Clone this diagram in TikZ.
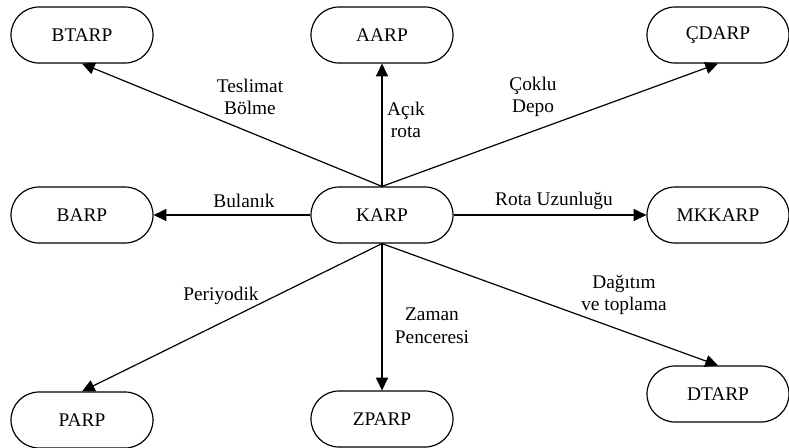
\documentclass[tikz,border=0pt]{standalone}
\usepackage{fontspec}
\setmainfont{Liberation Serif}
\usetikzlibrary{arrows.meta}
\begin{document}
\begin{tikzpicture}[x=0.75pt,y=-0.75pt,>={Triangle[length=9.5pt,width=9pt]},line join=round,
	font=\fontsize{14.5}{17}\selectfont,
	kutu/.style={draw,line width=0.9pt,rounded corners=21pt,minimum width=106.5pt,minimum height=42pt,inner sep=0pt},
	ok/.style={->,line width=0.9pt},
	etiket/.style={align=center,inner sep=0pt}]
		\useasboundingbox (0,0) rectangle (789,447);
		\def\xa{82} \def\xb{382} \def\xc{718} % sütunlar
		\def\ya{35} \def\yb{215} \def\yc{420} % satırlar
		\node[kutu] (KARP) at (\xb,\yb) {KARP};
		\node[kutu] (BTARP) at (\xa,\ya) {BTARP};
		\node[kutu] (AARP) at (\xb,\ya) {AARP};
		\node[kutu] (CDARP) at (\xc,\ya) {ÇDARP};
		\node[kutu] (BARP) at (\xa,\yb) {BARP};
		\node[kutu] (MKKARP) at (\xc,\yb) {MKKARP};
		\node[kutu] (PARP) at (\xa,\yc) {PARP};
		\node[kutu] (ZPARP) at (\xb,419) {ZPARP};
		\node[kutu] (DTARP) at (\xc,394) {DTARP};
		\foreach \n in {BTARP,AARP,CDARP}
		\draw[ok] (KARP.north)--(\n.south);
		\foreach \n in {PARP,ZPARP,DTARP}
		\draw[ok] (KARP.south)--(\n.north);
		\draw[ok] (KARP.west)--(BARP.east);
		\draw[ok] (KARP.east)--(MKKARP.west);
		\node[etiket] (tb) at (250,97) {Teslimat\\Bölme};
		\node[etiket] (ar) at (406,120) {Açık\\rota};
		\node[etiket] (cd) at (533,97) {Çoklu\\Depo};
		\node[etiket] (bu) at (244,201) {Bulanık};
		\node[etiket] (ru) at (554,201) {Rota Uzunluğu};
		\node[etiket] (pe) at (221,296) {Periyodik};
		\node[etiket] (zp) at (432,326) {Zaman\\Penceresi};
		\node[etiket] (dt) at (624,295) {Dağıtım\\ve toplama};
		\end{tikzpicture}
\end{document}
